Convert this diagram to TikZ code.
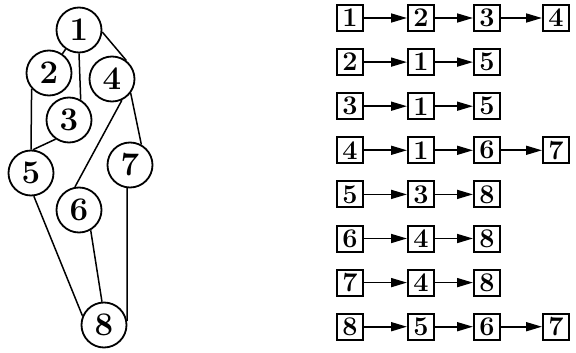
\documentclass[tikz,border=0pt]{standalone}
\usepackage{tikz}
\usetikzlibrary{arrows.meta}

\tikzset{
  vertex/.style={draw,circle,line width=1.8pt,minimum size=45pt,inner sep=0pt,
    font=\fontsize{33}{33}\selectfont\bfseries},
  cell/.style={draw,line width=2pt,minimum size=26pt,inner sep=0pt,
    font=\fontsize{27}{27}\selectfont\bfseries},
  edge/.style={line width=1.5pt},
  link/.style={line width=1.7pt,->}
}

\begin{document}
\begin{tikzpicture}[x=1pt,y=-1pt,>={Triangle[length=16pt,width=9pt]}]
  \useasboundingbox (0,0) rectangle (576,353);
  % graph
  \node [vertex] (n1) at (79,30) {1};
  \node [vertex] (n2) at (49,73) {2};
  \node [vertex] (n3) at (69,120) {3};
  \node [vertex] (n4) at (112,79) {4};
  \node [vertex] (n5) at (31,173) {5};
  \node [vertex] (n6) at (79,210) {6};
  \node [vertex] (n7) at (130,165) {7};
  \node [vertex] (n8) at (104,325) {8};
  % edges
  \draw [edge] (n1) -- (n2);
  \draw [edge] (n1.south) -- (n3.60);
  \draw [edge] (n1.-5) -- (n4.52);
  \draw [edge] (n2.222) -- (n5.north);
  \draw [edge] (n3.235) -- (n5.85);
  \draw [edge] (n4.295) -- (n6.100);
  \draw [edge] (n4.-37) -- (n7.61);
  \draw [edge] (n5.-83) -- (n8.157);
  \draw [edge] (n6.-60) -- (n8.95);
  \draw [edge] (n7.263) -- (n8.10);
  % adjacency lists
  \foreach \r/\row in {1/{1,2,3,4},2/{2,1,5},3/{3,1,5},4/{4,1,6,7},
                       5/{5,3,8},6/{6,4,8},7/{7,4,8},8/{8,5,6,7}} {
    \foreach \v [count=\c] in \row {
      \pgfmathsetmacro\cx{{350,421,487,556}[\c-1]}
      \node [cell] (r\r c\c) at (\cx,18+44.1*\r-44.1) {\v};
      \ifnum\c>1
        \pgfmathtruncatemacro\p{\c-1}
        \draw [link] (r\r c\p) -- (r\r c\c);
      \fi
    }
  }
\end{tikzpicture}
\end{document}
